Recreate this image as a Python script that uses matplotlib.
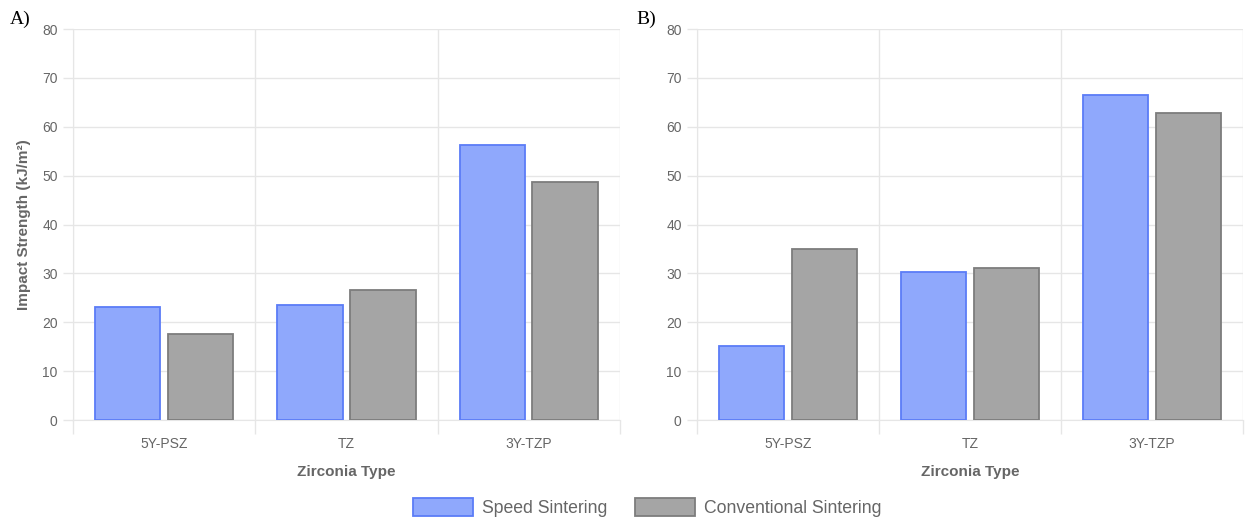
import matplotlib.pyplot as plt
import numpy as np
from matplotlib.ticker import FixedLocator

plt.rcParams['font.family'] = ['Liberation Sans', 'DejaVu Sans']

# Dados
categorias = ['5Y-PSZ', 'TZ', '3Y-TZP']
speed_a = [23.2, 23.5, 56.2]
conv_a = [17.6, 26.5, 48.7]
speed_b = [15.2, 30.3, 66.5]
conv_b = [35.0, 31.1, 62.8]
series = ['Speed Sintering', 'Conventional Sintering']

cor_speed = '#8fa8fc'
borda_speed = '#5b7cf7'
cor_conv = '#a5a5a5'
borda_conv = '#7d7d7d'
cor_grid = '#e6e6e6'
cor_texto = '#666666'

fig = plt.figure(figsize=(12.45, 5.17), dpi=100)
ax_a = fig.add_axes([0.0586, 0.1876, 0.4394, 0.7563])
ax_b = fig.add_axes([0.5598, 0.1876, 0.4386, 0.7563])

x = np.arange(len(categorias))
largura = 0.8 / 2 * 0.9


def desenha(ax, speed, conv):
    b1 = ax.bar(x - 0.2, speed, largura, color=cor_speed, edgecolor=borda_speed,
                linewidth=1.3, label=series[0], zorder=3)
    b2 = ax.bar(x + 0.2, conv, largura, color=cor_conv, edgecolor=borda_conv,
                linewidth=1.3, label=series[1], zorder=3)
    ax.set_xlim(-0.5, 2.5)
    ax.set_ylim(0, 80)
    ax.set_yticks(range(0, 81, 10))
    ax.set_xticks(x)
    ax.set_xticklabels(categorias)
    ax.xaxis.set_minor_locator(FixedLocator([-0.5, 0.5, 1.5, 2.5]))
    ax.tick_params(axis='x', which='major', length=0, pad=12, colors=cor_texto, labelsize=10)
    ax.tick_params(axis='x', which='minor', length=10, color=cor_grid, width=1)
    ax.tick_params(axis='y', length=7, width=1, pad=4, colors=cor_texto, labelsize=10)
    ax.tick_params(axis='y', color=cor_grid)
    ax.grid(True, axis='y', color=cor_grid, linewidth=1, zorder=0)
    ax.grid(True, axis='x', which='minor', color=cor_grid, linewidth=1, zorder=0)
    for s in ax.spines.values():
        s.set_visible(False)
    ax.spines['left'].set_visible(True)
    ax.spines['left'].set_color(cor_grid)
    ax.spines['bottom'].set_visible(True)
    ax.spines['bottom'].set_color(cor_grid)
    ax.set_xlabel('Zirconia Type', fontsize=11, fontweight='bold', color=cor_texto, labelpad=10)
    return b1, b2


b1, b2 = desenha(ax_a, speed_a, conv_a)
desenha(ax_b, speed_b, conv_b)

ax_a.set_ylabel('Impact Strength (kJ/m²)', fontsize=11, fontweight='bold', color=cor_texto, labelpad=8)

fig.text(0.008, 0.962, 'A)', fontsize=14, family=['Liberation Serif', 'DejaVu Serif'], va='center')
fig.text(0.511, 0.962, 'B)', fontsize=14, family=['Liberation Serif', 'DejaVu Serif'], va='center')

fig.legend([b1, b2], series, loc='center', bbox_to_anchor=(0.52, 0.018), ncol=2,
           frameon=False, fontsize=12.7, handlelength=3.4, handleheight=1.2,
           columnspacing=1.6, labelcolor=cor_texto, handletextpad=0.5)

plt.savefig('out.png', dpi=100)
